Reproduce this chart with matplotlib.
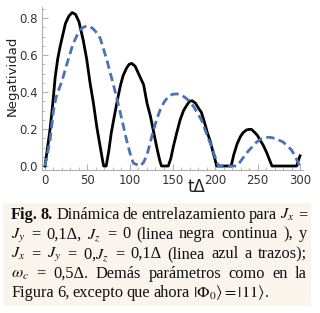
import numpy as np
import matplotlib
matplotlib.use("Agg")
import matplotlib.pyplot as plt
from matplotlib.patches import Rectangle
from matplotlib.ticker import MultipleLocator

# data (t*Delta, negativity)
t_black = [0, 3, 6, 9, 12, 15, 18, 21, 24, 28, 32, 36, 40, 45, 49, 53, 57, 61, 64, 67, 69, 72,
           75, 78, 82, 86, 89, 92, 96, 99, 102, 106, 110, 113, 116, 120, 124, 128, 132, 135, 137, 145,
           148, 151, 155, 159, 163, 167, 170, 173, 177, 181, 184, 188, 191, 194, 198, 202, 219,
           222, 226, 230, 233, 237, 240, 243, 247, 250, 253, 257, 261, 264, 267, 296, 298, 300]
n_black = [0.0, 0.1, 0.2, 0.33, 0.48, 0.58, 0.65, 0.71, 0.77, 0.81, 0.83, 0.82, 0.78, 0.68, 0.58, 0.45, 0.34, 0.21, 0.13, 0.05, 0.0, 0.0,
           0.08, 0.18, 0.28, 0.375, 0.44, 0.49, 0.53, 0.55, 0.555, 0.54, 0.5, 0.47, 0.44, 0.34, 0.27, 0.18, 0.09, 0.03, 0.0, 0.0,
           0.04, 0.105, 0.18, 0.25, 0.3, 0.33, 0.35, 0.353, 0.34, 0.31, 0.29, 0.23, 0.18, 0.14, 0.07, 0.0, 0.0,
           0.06, 0.12, 0.16, 0.18, 0.195, 0.198, 0.198, 0.18, 0.165, 0.14, 0.11, 0.07, 0.035, 0.0, 0.0, 0.03, 0.055]

t_blue = [0, 3, 6, 10, 13, 16, 20, 25, 29, 33, 37, 41, 45, 49, 53, 57, 61, 65, 69, 73, 77, 81, 84, 88,
          92, 96, 100, 104, 112, 116, 120, 124, 128, 132, 136, 140, 145, 150, 155, 160, 165, 170, 175,
          180, 184, 188, 192, 196, 200, 204, 226, 230, 234, 238, 243, 249, 255, 260, 265, 270, 275,
          280, 285, 290, 294, 298, 300]
n_blue = [0.0, 0.07, 0.14, 0.3, 0.37, 0.41, 0.46, 0.54, 0.6, 0.66, 0.7, 0.735, 0.75, 0.757, 0.755, 0.74, 0.72, 0.69, 0.63, 0.57, 0.5, 0.43, 0.375, 0.3,
           0.22, 0.14, 0.07, 0.015, 0.0, 0.02, 0.06, 0.13, 0.2, 0.26, 0.31, 0.345, 0.375, 0.388, 0.39, 0.385, 0.37, 0.35, 0.32,
           0.28, 0.25, 0.2, 0.15, 0.105, 0.05, 0.0, 0.0, 0.025, 0.05, 0.075, 0.1, 0.13, 0.148, 0.155, 0.155, 0.15, 0.14,
           0.13, 0.11, 0.086, 0.055, 0.015, 0.0]

caption = [
    ["Fig.", "8.", "Dinámica", "de", "entrelazamiento", "para", "$J_x$", "="],
    ["$J_y$", "=", "0,1Δ,", "$J_z$", "=", "0", "(linea", "negra", "continua", "),", "y"],
    ["$J_x$", "=", "$J_y$", "=", "0,$J_z$", "=", "0,1Δ", "(linea", "azul", "a", "trazos);"],
    ["$\\omega_c$", "=", "0,5Δ.", "Demás", "parámetros", "como", "en", "la"],
    ["Figura", "6,", "excepto", "que", "ahora", "$|\\Phi_0\\rangle=|11\\rangle$."],
]

plt.rcParams["mathtext.fontset"] = "stix"

W, H = 320, 313
fig = plt.figure(figsize=(W / 100, H / 100), dpi=100)
ax = fig.add_axes([42 / W, 1 - 170 / H, (303 - 42) / W, (170 - 7) / H])

ax.plot(t_black, n_black, color="black", lw=2.0)
ax.plot(t_blue, n_blue, color="#4a72b8", lw=2.0, ls=(0, (3, 1.6)))

ax.set_xlim(-3.5, 303.5)
ax.set_ylim(-0.0216, 0.86)
ax.xaxis.set_major_locator(MultipleLocator(50))
ax.xaxis.set_minor_locator(MultipleLocator(10))
ax.yaxis.set_major_locator(MultipleLocator(0.2))
ax.yaxis.set_minor_locator(MultipleLocator(0.05))
ax.yaxis.set_major_formatter(matplotlib.ticker.FormatStrFormatter("%.1f"))
for s in ["top", "right"]:
    ax.spines[s].set_visible(False)
for s in ["left", "bottom"]:
    ax.spines[s].set_color("#b0b0b0")
    ax.spines[s].set_linewidth(0.8)
ax.tick_params(which="both", direction="in", color="#b0b0b0", labelsize=8.5, labelcolor="#333333", pad=3)
ax.tick_params(which="major", length=4)
ax.tick_params(which="minor", length=2)

ax.set_ylabel("Negatividad", fontsize=9.5, color="#222222")
ax.yaxis.set_label_coords(-0.088, 0.58)
ax.text(196 / W, 1 - 187 / H, "tΔ", transform=fig.transFigure, ha="center", va="center",
        fontsize=12, color="#222222")

# caption box
fig.patches.append(Rectangle((3 / W, 1 - 306 / H), (311 - 3) / W, (306 - 203) / H,
                             transform=fig.transFigure, facecolor="#f9f4ec", edgecolor="none", zorder=0))

renderer = fig.canvas.get_renderer()
x0, x1 = 11, 307
line_y = [219, 238.5, 258, 277.5, 297]  # baselines in pixels
for i, words in enumerate(caption):
    texts = []
    for j, w in enumerate(words):
        bold = (i == 0 and j < 2)
        texts.append(fig.text(0, 1 - line_y[i] / H, w, fontsize=11.8, family="Liberation Serif",
                              fontweight="bold" if bold else "normal", va="baseline", ha="left",
                              color="#111111"))
    widths = [t.get_window_extent(renderer).width for t in texts]
    if i < len(caption) - 1:
        gap = (x1 - x0 - sum(widths)) / (len(words) - 1)
    else:
        gap = 3.2
    x = x0
    for t, w in zip(texts, widths):
        t.set_x(x / W)
        x += w + gap

fig.savefig("out.png", dpi=100)
